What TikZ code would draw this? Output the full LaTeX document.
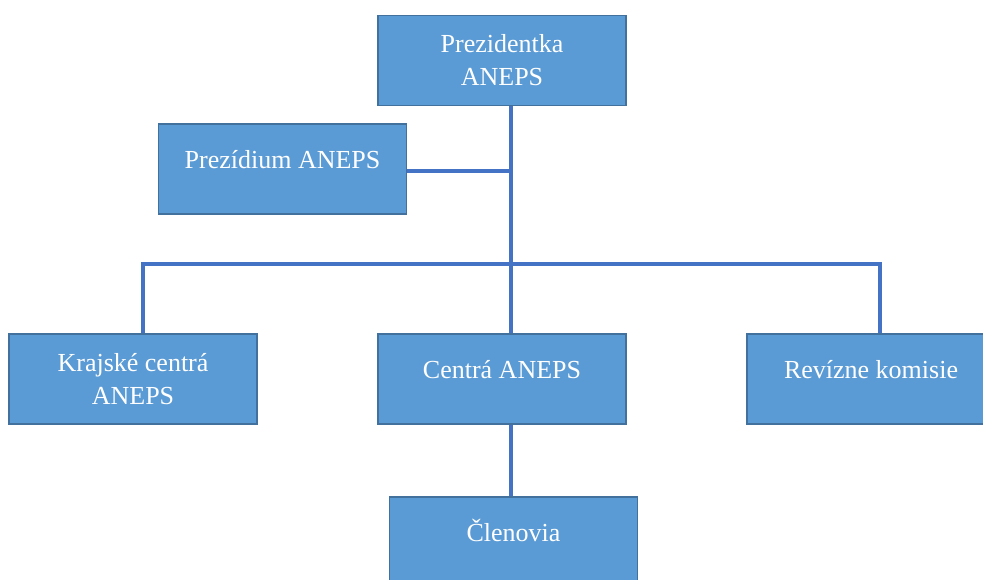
\documentclass[tikz,border=0pt]{standalone}
\usepackage{fontspec}
\setmainfont{Liberation Serif}
\definecolor{boxfill}{HTML}{5B9BD5}
\definecolor{boxedge}{HTML}{41719C}
\definecolor{linec}{HTML}{4472C4}
\begin{document}
\begin{tikzpicture}[x=1pt,y=-1pt,
  box/.style={draw=boxedge, line width=1.8pt, fill=boxfill, text=white,
    minimum width=248pt, minimum height=90pt, inner sep=0pt, align=center,
    font=\fontsize{26}{33}\selectfont},
  oneline/.style={text height=10pt, text depth=11pt},
  conn/.style={draw=linec, line width=4pt}]
\useasboundingbox (0,0) rectangle (983,580);
\node[box] (pres) at (502,60.5) {Prezidentka\\ANEPS};
\node[box, oneline] (prez) at (282.5,169) {Prezídium ANEPS};
\node[box] (kraj) at (133,379) {Krajské centrá\\ANEPS};
\node[box, oneline] (cent) at (502,379) {Centrá ANEPS};
\node[box, oneline] (rev) at (871,379) {Revízne komisie};
\node[box, oneline] (clen) at (513.5,542) {Členovia};
\coordinate (j) at (511,264);
\coordinate (bl) at (143,264);
\coordinate (br) at (880,264);
\coordinate (pj) at (511,171);
\draw[conn] (pres.south -| j) -- (cent.north -| j);
\draw[conn] (prez.east |- pj) -- (pj);
\draw[conn] (kraj.north -| bl) -- (bl) -- (br) -- (rev.north -| br);
\draw[conn] (cent.south -| j) -- (clen.north -| j);
\end{tikzpicture}
\end{document}
